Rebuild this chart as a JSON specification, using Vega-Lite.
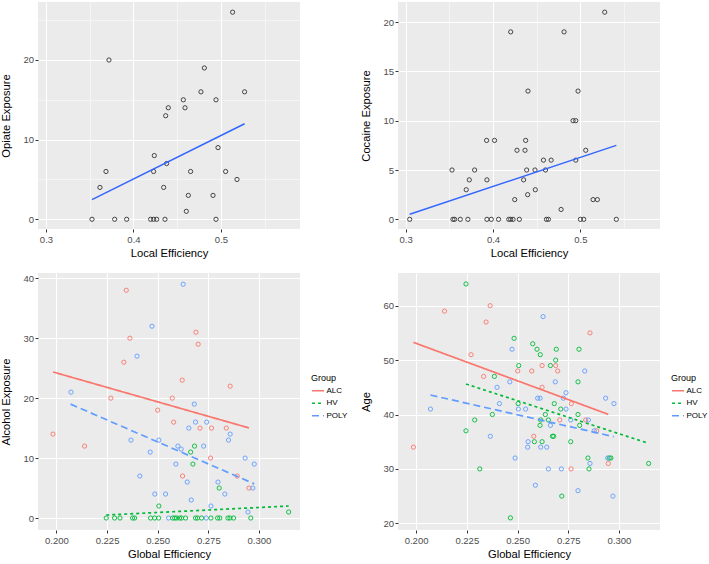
{
  "$schema": "https://vega.github.io/schema/vega-lite/v6.json",
  "padding": {"left": 0, "top": 2, "right": 0, "bottom": 0},
  "background": "#FFFFFF",
  "config": {
    "font": "Liberation Sans",
    "view": {"fill": "#EBEBEB", "stroke": null},
    "axis": {
      "domain": false, "grid": true, "gridColor": "#FFFFFF",
      "tickColor": "#333333", "tickSize": 3, "tickWidth": 1,
      "labelColor": "#4D4D4D", "labelFont": "Liberation Sans", "labelFontSize": 9.5,
      "titleFont": "Liberation Sans", "titleFontSize": 11.2, "titleFontWeight": "normal", "titleColor": "#000000",
      "labelOverlap": false, "labelFlush": false
    },
    "axisX": {"labelPadding": 2, "titlePadding": 4},
    "axisY": {"labelPadding": 1.5, "titlePadding": 11},
    "legend": {
      "titleFont": "Liberation Sans", "titleFontSize": 9, "titleFontWeight": "normal", "titleColor": "#000000",
      "titleLineHeight": 11.2,
      "labelFont": "Liberation Sans", "labelFontSize": 8, "labelColor": "#000000",
      "symbolSize": 144, "symbolStrokeWidth": 1.6, "rowPadding": 1.5, "titlePadding": 1, "labelOffset": 1.5,
      "offset": 11
    }
  },
  "datasets": {
    "opiate": [
      {"x":0.3526,"y":0},{"x":0.3617,"y":4},{"x":0.3686,"y":6},{"x":0.372,"y":20},{"x":0.3785,"y":0},
      {"x":0.3922,"y":0},{"x":0.4196,"y":0},{"x":0.423,"y":0},{"x":0.4265,"y":0},{"x":0.423,"y":6},
      {"x":0.4238,"y":8},{"x":0.4345,"y":4},{"x":0.436,"y":0},{"x":0.4368,"y":13},{"x":0.4379,"y":7},
      {"x":0.4398,"y":14},{"x":0.457,"y":15},{"x":0.4589,"y":14},{"x":0.4604,"y":1},{"x":0.4627,"y":3},
      {"x":0.4653,"y":6},{"x":0.4771,"y":16},{"x":0.481,"y":19},{"x":0.4909,"y":3},{"x":0.4943,"y":15},
      {"x":0.4943,"y":0},{"x":0.4966,"y":9},{"x":0.5053,"y":6},{"x":0.5133,"y":26},{"x":0.5183,"y":5},
      {"x":0.527,"y":16}
    ],
    "cocaine": [
      {"x":0.3046,"y":0},{"x":0.353,"y":5},{"x":0.3541,"y":0},{"x":0.356,"y":0},{"x":0.3625,"y":0},
      {"x":0.3693,"y":3},{"x":0.3712,"y":0},{"x":0.3728,"y":4},{"x":0.3789,"y":5},{"x":0.3926,"y":8},
      {"x":0.393,"y":4},{"x":0.393,"y":0},{"x":0.398,"y":0},{"x":0.4017,"y":8},{"x":0.4063,"y":0},
      {"x":0.418,"y":0},{"x":0.4202,"y":0},{"x":0.4229,"y":0},{"x":0.4202,"y":19},{"x":0.4248,"y":2},
      {"x":0.4274,"y":7},{"x":0.4301,"y":0},{"x":0.435,"y":4},{"x":0.4366,"y":7},{"x":0.4373,"y":8},
      {"x":0.4385,"y":5},{"x":0.4396,"y":2.5},{"x":0.44,"y":13},{"x":0.448,"y":5},{"x":0.4484,"y":3},
      {"x":0.4577,"y":6},{"x":0.46,"y":5},{"x":0.4611,"y":0},{"x":0.4634,"y":0},{"x":0.4665,"y":6},
      {"x":0.4779,"y":1},{"x":0.4813,"y":19},{"x":0.4916,"y":10},{"x":0.4947,"y":10},{"x":0.4947,"y":6},
      {"x":0.4973,"y":13},{"x":0.5,"y":0},{"x":0.5038,"y":0},{"x":0.5061,"y":7},{"x":0.5145,"y":2},
      {"x":0.5194,"y":2},{"x":0.5278,"y":21},{"x":0.5411,"y":0}
    ],
    "alcohol": [
      {"x":0.2345,"y":38,"group":"ALC"},{"x":0.2363,"y":30,"group":"ALC"},{"x":0.2333,"y":26,"group":"ALC"},
      {"x":0.2269,"y":20,"group":"ALC"},{"x":0.2572,"y":20,"group":"ALC"},{"x":0.2621,"y":23,"group":"ALC"},
      {"x":0.2689,"y":31,"group":"ALC"},{"x":0.27,"y":29,"group":"ALC"},{"x":0.2858,"y":22,"group":"ALC"},
      {"x":0.25,"y":18,"group":"ALC"},{"x":0.2579,"y":16,"group":"ALC"},{"x":0.2709,"y":15,"group":"ALC"},
      {"x":0.2766,"y":15,"group":"ALC"},{"x":0.2839,"y":15,"group":"ALC"},{"x":0.1983,"y":14,"group":"ALC"},
      {"x":0.2139,"y":12,"group":"ALC"},{"x":0.2761,"y":10,"group":"ALC"},{"x":0.2623,"y":7,"group":"ALC"},
      {"x":0.2893,"y":7,"group":"ALC"},{"x":0.2951,"y":5,"group":"ALC"},
      {"x":0.2626,"y":39,"group":"POLY"},{"x":0.2472,"y":32,"group":"POLY"},{"x":0.2398,"y":27,"group":"POLY"},
      {"x":0.2072,"y":21,"group":"POLY"},{"x":0.2681,"y":19,"group":"POLY"},{"x":0.2687,"y":16,"group":"POLY"},
      {"x":0.2742,"y":16,"group":"POLY"},{"x":0.2654,"y":15,"group":"POLY"},{"x":0.2858,"y":14,"group":"POLY"},
      {"x":0.2368,"y":13,"group":"POLY"},{"x":0.2506,"y":13,"group":"POLY"},{"x":0.285,"y":13,"group":"POLY"},
      {"x":0.2463,"y":11,"group":"POLY"},{"x":0.26,"y":12,"group":"POLY"},{"x":0.2616,"y":11.5,"group":"POLY"},
      {"x":0.2727,"y":12,"group":"POLY"},{"x":0.259,"y":9,"group":"POLY"},{"x":0.2932,"y":10,"group":"POLY"},
      {"x":0.2977,"y":9,"group":"POLY"},{"x":0.2412,"y":7,"group":"POLY"},{"x":0.2646,"y":6,"group":"POLY"},
      {"x":0.2798,"y":6,"group":"POLY"},{"x":0.297,"y":5,"group":"POLY"},{"x":0.2486,"y":4,"group":"POLY"},
      {"x":0.2539,"y":4,"group":"POLY"},{"x":0.2832,"y":4,"group":"POLY"},{"x":0.2666,"y":3,"group":"POLY"},
      {"x":0.2763,"y":2,"group":"POLY"},{"x":0.2946,"y":1,"group":"POLY"},{"x":0.2554,"y":0,"group":"POLY"},
      {"x":0.274,"y":0,"group":"POLY"},
      {"x":0.2682,"y":12,"group":"HV"},{"x":0.2663,"y":11,"group":"HV"},{"x":0.2674,"y":9,"group":"HV"},
      {"x":0.2804,"y":5,"group":"HV"},{"x":0.2506,"y":2,"group":"HV"},{"x":0.3147,"y":1,"group":"HV"},
      {"x":0.2246,"y":0,"group":"HV"},{"x":0.2287,"y":0,"group":"HV"},{"x":0.2314,"y":0,"group":"HV"},
      {"x":0.2376,"y":0,"group":"HV"},{"x":0.2386,"y":0,"group":"HV"},{"x":0.2465,"y":0,"group":"HV"},
      {"x":0.2485,"y":0,"group":"HV"},{"x":0.2505,"y":0,"group":"HV"},{"x":0.2574,"y":0,"group":"HV"},
      {"x":0.2584,"y":0,"group":"HV"},{"x":0.2593,"y":0,"group":"HV"},{"x":0.2608,"y":0,"group":"HV"},
      {"x":0.2618,"y":0,"group":"HV"},{"x":0.2638,"y":0,"group":"HV"},{"x":0.2687,"y":0,"group":"HV"},
      {"x":0.2697,"y":0,"group":"HV"},{"x":0.2717,"y":0,"group":"HV"},{"x":0.2763,"y":0,"group":"HV"},
      {"x":0.2796,"y":0,"group":"HV"},{"x":0.2807,"y":0,"group":"HV"},{"x":0.2847,"y":0,"group":"HV"},
      {"x":0.2857,"y":0,"group":"HV"},{"x":0.2875,"y":0,"group":"HV"},{"x":0.296,"y":0,"group":"HV"}
    ],
    "age": [
      {"x":0.1987,"y":34,"group":"ALC"},{"x":0.214,"y":59,"group":"ALC"},{"x":0.2365,"y":60,"group":"ALC"},
      {"x":0.2345,"y":57,"group":"ALC"},{"x":0.2271,"y":51,"group":"ALC"},{"x":0.2333,"y":47,"group":"ALC"},
      {"x":0.2501,"y":48,"group":"ALC"},{"x":0.257,"y":48,"group":"ALC"},{"x":0.2621,"y":49,"group":"ALC"},
      {"x":0.2688,"y":49,"group":"ALC"},{"x":0.2698,"y":48,"group":"ALC"},{"x":0.2621,"y":45,"group":"ALC"},
      {"x":0.2857,"y":55,"group":"ALC"},{"x":0.2765,"y":42,"group":"ALC"},{"x":0.2708,"y":39,"group":"ALC"},
      {"x":0.258,"y":36,"group":"ALC"},{"x":0.2764,"y":30,"group":"ALC"},{"x":0.2836,"y":39,"group":"ALC"},
      {"x":0.2947,"y":31,"group":"ALC"},{"x":0.289,"y":37,"group":"ALC"},
      {"x":0.2246,"y":64,"group":"HV"},{"x":0.2246,"y":37,"group":"HV"},{"x":0.2289,"y":39,"group":"HV"},
      {"x":0.2314,"y":30,"group":"HV"},{"x":0.2376,"y":40,"group":"HV"},{"x":0.2386,"y":47,"group":"HV"},
      {"x":0.2483,"y":54,"group":"HV"},{"x":0.2465,"y":21,"group":"HV"},{"x":0.2506,"y":49,"group":"HV"},
      {"x":0.2503,"y":42,"group":"HV"},{"x":0.2575,"y":53,"group":"HV"},{"x":0.2596,"y":52,"group":"HV"},
      {"x":0.2612,"y":51,"group":"HV"},{"x":0.2662,"y":49,"group":"HV"},{"x":0.2691,"y":52,"group":"HV"},
      {"x":0.2688,"y":50,"group":"HV"},{"x":0.2803,"y":52,"group":"HV"},{"x":0.2798,"y":46,"group":"HV"},
      {"x":0.2681,"y":42,"group":"HV"},{"x":0.2713,"y":41,"group":"HV"},{"x":0.2798,"y":40,"group":"HV"},
      {"x":0.2637,"y":40,"group":"HV"},{"x":0.2614,"y":39,"group":"HV"},{"x":0.2611,"y":38,"group":"HV"},
      {"x":0.2652,"y":39,"group":"HV"},{"x":0.2806,"y":38,"group":"HV"},{"x":0.2583,"y":35,"group":"HV"},
      {"x":0.2621,"y":35,"group":"HV"},{"x":0.2672,"y":36,"group":"HV"},{"x":0.2678,"y":36,"group":"HV"},
      {"x":0.2762,"y":35,"group":"HV"},{"x":0.2718,"y":25,"group":"HV"},{"x":0.2847,"y":32,"group":"HV"},
      {"x":0.2852,"y":30,"group":"HV"},{"x":0.2952,"y":32,"group":"HV"},{"x":0.296,"y":32,"group":"HV"},
      {"x":0.3146,"y":31,"group":"HV"},
      {"x":0.2071,"y":41,"group":"POLY"},{"x":0.2626,"y":58,"group":"POLY"},{"x":0.2473,"y":52,"group":"POLY"},
      {"x":0.2462,"y":46,"group":"POLY"},{"x":0.2399,"y":45,"group":"POLY"},{"x":0.2411,"y":42,"group":"POLY"},
      {"x":0.2504,"y":41,"group":"POLY"},{"x":0.254,"y":41,"group":"POLY"},{"x":0.2366,"y":36,"group":"POLY"},
      {"x":0.2488,"y":32,"group":"POLY"},{"x":0.2599,"y":43,"group":"POLY"},{"x":0.2611,"y":43,"group":"POLY"},
      {"x":0.2686,"y":46,"group":"POLY"},{"x":0.2739,"y":44,"group":"POLY"},{"x":0.2726,"y":43,"group":"POLY"},
      {"x":0.2831,"y":48,"group":"POLY"},{"x":0.2934,"y":43,"group":"POLY"},{"x":0.2975,"y":42,"group":"POLY"},
      {"x":0.2739,"y":41,"group":"POLY"},{"x":0.2762,"y":39,"group":"POLY"},{"x":0.2662,"y":38,"group":"POLY"},
      {"x":0.2849,"y":39,"group":"POLY"},{"x":0.2878,"y":37,"group":"POLY"},{"x":0.2552,"y":35,"group":"POLY"},
      {"x":0.255,"y":34,"group":"POLY"},{"x":0.2614,"y":34,"group":"POLY"},{"x":0.2644,"y":34,"group":"POLY"},
      {"x":0.2652,"y":30,"group":"POLY"},{"x":0.2716,"y":30,"group":"POLY"},{"x":0.2588,"y":27,"group":"POLY"},
      {"x":0.2798,"y":26,"group":"POLY"},{"x":0.2857,"y":31,"group":"POLY"},{"x":0.2944,"y":32,"group":"POLY"},
      {"x":0.297,"y":25,"group":"POLY"}
    ],
    "fits": [
      {"panel":"opiate","group":"all","x":0.3526,"y":2.47},{"panel":"opiate","group":"all","x":0.527,"y":12.0},
      {"panel":"cocaine","group":"all","x":0.3046,"y":0.51},{"panel":"cocaine","group":"all","x":0.5411,"y":7.5},
      {"panel":"alcohol","group":"ALC","x":0.1983,"y":24.37},{"panel":"alcohol","group":"ALC","x":0.2951,"y":15.03},
      {"panel":"alcohol","group":"HV","x":0.2246,"y":0.5},{"panel":"alcohol","group":"HV","x":0.3147,"y":2.0},
      {"panel":"alcohol","group":"POLY","x":0.207,"y":19.0},{"panel":"alcohol","group":"POLY","x":0.2977,"y":5.7},
      {"panel":"age","group":"ALC","x":0.1987,"y":53.26},{"panel":"age","group":"ALC","x":0.2947,"y":40.03},
      {"panel":"age","group":"HV","x":0.2246,"y":45.6},{"panel":"age","group":"HV","x":0.3146,"y":34.7},
      {"panel":"age","group":"POLY","x":0.2071,"y":43.58},{"panel":"age","group":"POLY","x":0.2974,"y":35.93}
    ]
  },
  "columns": 2,
  "spacing": {"row": 44, "column": 98},
  "bounds": "flush",
  "resolve": {
    "scale": {"color": "independent", "strokeDash": "independent"},
    "legend": {"color": "independent", "strokeDash": "independent"}
  },
  "concat": [
    {
      "width": 262, "height": 227,
      "layer": [
        {
          "data": {"name": "opiate"},
          "mark": {"type": "point", "shape": "circle", "filled": false, "size": 18, "strokeWidth": 0.9, "color": "#333333", "opacity": 1},
          "encoding": {
            "x": {"field": "x", "type": "quantitative", "scale": {"domain": [0.2909, 0.5903], "nice": false, "zero": false},
              "axis": {"title": "Local Efficiency", "values": [0.3, 0.35, 0.4, 0.45, 0.5, 0.55],
                "labelExpr": "abs(round(datum.value*10)-datum.value*10)<0.001 ? format(datum.value,'.1f') : ''",
                "gridWidth": {"condition": {"test": "abs(round(datum.value*10)-datum.value*10)<0.001", "value": 1.1}, "value": 0.5},
                "tickOpacity": {"condition": {"test": "abs(round(datum.value*10)-datum.value*10)<0.001", "value": 1}, "value": 0}}},
            "y": {"field": "y", "type": "quantitative", "scale": {"domain": [-1.22, 27.28], "nice": false, "zero": false},
              "axis": {"title": "Opiate Exposure", "values": [0, 5, 10, 15, 20, 25],
                "labelExpr": "datum.value % 10 === 0 ? format(datum.value,'d') : ''",
                "gridWidth": {"condition": {"test": "datum.value % 10 === 0", "value": 1.1}, "value": 0.5},
                "tickOpacity": {"condition": {"test": "datum.value % 10 === 0", "value": 1}, "value": 0}}}
          }
        },
        {
          "data": {"name": "fits"},
          "transform": [{"filter": "datum.panel === 'opiate'"}],
          "mark": {"type": "line", "color": "#3366FF", "strokeWidth": 1.5},
          "encoding": {"x": {"field": "x", "type": "quantitative"}, "y": {"field": "y", "type": "quantitative"}}
        }
      ]
    },
    {
      "width": 262, "height": 227,
      "layer": [
        {
          "data": {"name": "cocaine"},
          "mark": {"type": "point", "shape": "circle", "filled": false, "size": 18, "strokeWidth": 0.9, "color": "#333333", "opacity": 1},
          "encoding": {
            "x": {"field": "x", "type": "quantitative", "scale": {"domain": [0.2912, 0.5911], "nice": false, "zero": false},
              "axis": {"title": "Local Efficiency", "values": [0.3, 0.35, 0.4, 0.45, 0.5, 0.55],
                "labelExpr": "abs(round(datum.value*10)-datum.value*10)<0.001 ? format(datum.value,'.1f') : ''",
                "gridWidth": {"condition": {"test": "abs(round(datum.value*10)-datum.value*10)<0.001", "value": 1.1}, "value": 0.5},
                "tickOpacity": {"condition": {"test": "abs(round(datum.value*10)-datum.value*10)<0.001", "value": 1}, "value": 0}}},
            "y": {"field": "y", "type": "quantitative", "scale": {"domain": [-0.98, 22.03], "nice": false, "zero": false},
              "axis": {"title": "Cocaine Exposure", "values": [0, 2.5, 5, 7.5, 10, 12.5, 15, 17.5, 20],
                "labelExpr": "datum.value % 5 === 0 ? format(datum.value,'d') : ''",
                "gridWidth": {"condition": {"test": "datum.value % 5 === 0", "value": 1.1}, "value": 0.5},
                "tickOpacity": {"condition": {"test": "datum.value % 5 === 0", "value": 1}, "value": 0}}}
          }
        },
        {
          "data": {"name": "fits"},
          "transform": [{"filter": "datum.panel === 'cocaine'"}],
          "mark": {"type": "line", "color": "#3366FF", "strokeWidth": 1.5},
          "encoding": {"x": {"field": "x", "type": "quantitative"}, "y": {"field": "y", "type": "quantitative"}}
        }
      ]
    },
    {
      "width": 262, "height": 257,
      "layer": [
        {
          "data": {"name": "alcohol"},
          "mark": {"type": "point", "shape": "circle", "filled": false, "size": 18, "strokeWidth": 0.9, "opacity": 1},
          "encoding": {
            "x": {"field": "x", "type": "quantitative", "scale": {"domain": [0.1909, 0.3203], "nice": false, "zero": false},
              "axis": {"title": "Global Efficiency", "values": [0.2, 0.2125, 0.225, 0.2375, 0.25, 0.2625, 0.275, 0.2875, 0.3, 0.3125],
                "labelExpr": "abs(round(datum.value*40)-datum.value*40)<0.001 ? format(datum.value,'.3f') : ''",
                "gridWidth": {"condition": {"test": "abs(round(datum.value*40)-datum.value*40)<0.001", "value": 1.1}, "value": 0.5},
                "tickOpacity": {"condition": {"test": "abs(round(datum.value*40)-datum.value*40)<0.001", "value": 1}, "value": 0}}},
            "y": {"field": "y", "type": "quantitative", "scale": {"domain": [-2.0, 40.88], "nice": false, "zero": false},
              "axis": {"title": "Alcohol Exposure", "values": [0, 5, 10, 15, 20, 25, 30, 35, 40],
                "labelExpr": "datum.value % 10 === 0 ? format(datum.value,'d') : ''",
                "gridWidth": {"condition": {"test": "datum.value % 10 === 0", "value": 1.1}, "value": 0.5},
                "tickOpacity": {"condition": {"test": "datum.value % 10 === 0", "value": 1}, "value": 0}}},
            "stroke": {"field": "group", "type": "nominal", "scale": {"domain": ["ALC", "HV", "POLY"], "range": ["#F8766D", "#00BA38", "#619CFF"]}, "legend": null}
          }
        },
        {
          "data": {"name": "fits"},
          "transform": [{"filter": "datum.panel === 'alcohol'"}],
          "mark": {"type": "line", "strokeWidth": 1.7},
          "encoding": {
            "x": {"field": "x", "type": "quantitative"},
            "y": {"field": "y", "type": "quantitative"},
            "color": {"field": "group", "type": "nominal", "scale": {"domain": ["ALC", "HV", "POLY"], "range": ["#F8766D", "#00BA38", "#619CFF"]},
              "legend": {"title": ["\u2800", "\u2800", "\u2800", "\u2800", "\u2800", "\u2800", "\u2800", "\u2800", "\u2800", "Group"]}},
            "strokeDash": {"field": "group", "type": "nominal", "scale": {"domain": ["ALC", "HV", "POLY"], "range": [[1, 0], [3, 3], [7, 4]]},
              "legend": {"title": ["\u2800", "\u2800", "\u2800", "\u2800", "\u2800", "\u2800", "\u2800", "\u2800", "\u2800", "Group"]}}
          }
        }
      ]
    },
    {
      "width": 262, "height": 257,
      "layer": [
        {
          "data": {"name": "age"},
          "mark": {"type": "point", "shape": "circle", "filled": false, "size": 18, "strokeWidth": 0.9, "opacity": 1},
          "encoding": {
            "x": {"field": "x", "type": "quantitative", "scale": {"domain": [0.1911, 0.3202], "nice": false, "zero": false},
              "axis": {"title": "Global Efficiency", "values": [0.2, 0.2125, 0.225, 0.2375, 0.25, 0.2625, 0.275, 0.2875, 0.3, 0.3125],
                "labelExpr": "abs(round(datum.value*40)-datum.value*40)<0.001 ? format(datum.value,'.3f') : ''",
                "gridWidth": {"condition": {"test": "abs(round(datum.value*40)-datum.value*40)<0.001", "value": 1.1}, "value": 0.5},
                "tickOpacity": {"condition": {"test": "abs(round(datum.value*40)-datum.value*40)<0.001", "value": 1}, "value": 0}}},
            "y": {"field": "y", "type": "quantitative", "scale": {"domain": [18.77, 66.01], "nice": false, "zero": false},
              "axis": {"title": "Age", "values": [20, 25, 30, 35, 40, 45, 50, 55, 60, 65],
                "labelExpr": "datum.value % 10 === 0 ? format(datum.value,'d') : ''",
                "gridWidth": {"condition": {"test": "datum.value % 10 === 0", "value": 1.1}, "value": 0.5},
                "tickOpacity": {"condition": {"test": "datum.value % 10 === 0", "value": 1}, "value": 0}}},
            "stroke": {"field": "group", "type": "nominal", "scale": {"domain": ["ALC", "HV", "POLY"], "range": ["#F8766D", "#00BA38", "#619CFF"]}, "legend": null}
          }
        },
        {
          "data": {"name": "fits"},
          "transform": [{"filter": "datum.panel === 'age'"}],
          "mark": {"type": "line", "strokeWidth": 1.7},
          "encoding": {
            "x": {"field": "x", "type": "quantitative"},
            "y": {"field": "y", "type": "quantitative"},
            "color": {"field": "group", "type": "nominal", "scale": {"domain": ["ALC", "HV", "POLY"], "range": ["#F8766D", "#00BA38", "#619CFF"]},
              "legend": {"title": ["\u2800", "\u2800", "\u2800", "\u2800", "\u2800", "\u2800", "\u2800", "\u2800", "\u2800", "Group"]}},
            "strokeDash": {"field": "group", "type": "nominal", "scale": {"domain": ["ALC", "HV", "POLY"], "range": [[1, 0], [3, 3], [7, 4]]},
              "legend": {"title": ["\u2800", "\u2800", "\u2800", "\u2800", "\u2800", "\u2800", "\u2800", "\u2800", "\u2800", "Group"]}}
          }
        }
      ]
    }
  ]
}
